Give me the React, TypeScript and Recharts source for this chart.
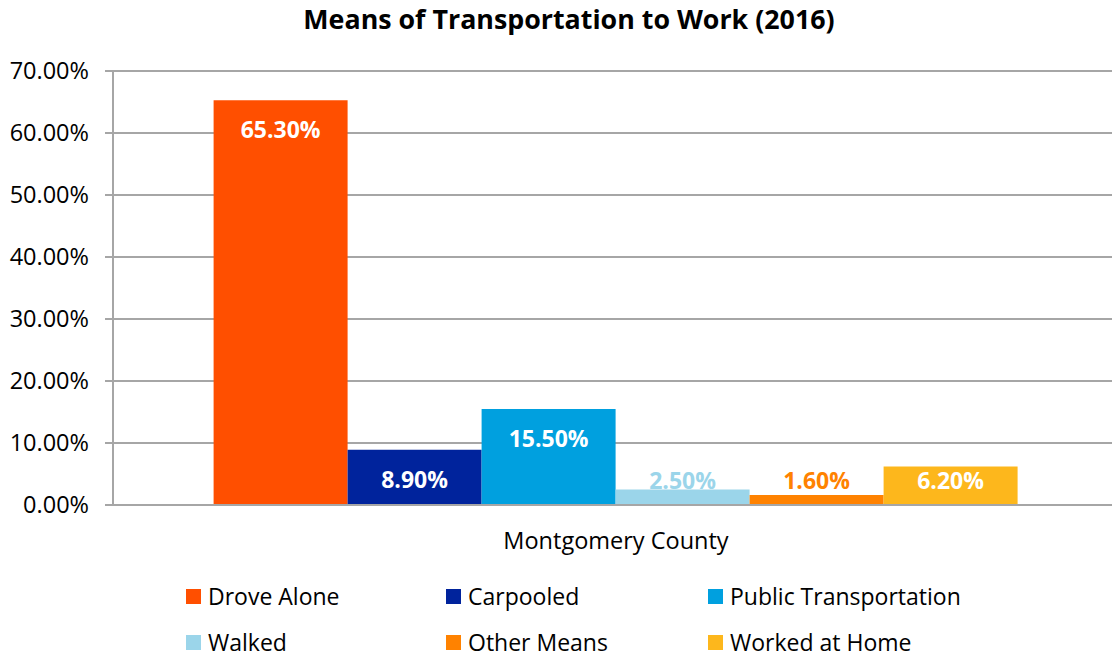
import React from "react";
import { BarChart, Bar, XAxis, YAxis, CartesianGrid, LabelList } from "recharts";

// 카테고리 / 시리즈 데이터
const categories = ["Montgomery County"];
const seriesNames = [
    "Drove Alone",
    "Carpooled",
    "Public Transportation",
    "Walked",
    "Other Means",
    "Worked at Home",
];
const seriesValues = [65.3, 8.9, 15.5, 2.5, 1.6, 6.2];
const seriesColors = ["#FF4F00", "#00239C", "#00A0DF", "#9BD5EA", "#FF8200", "#FDB71C"];
const yTicks = [0, 10, 20, 30, 40, 50, 60, 70];

const FONT = "'Open Sans', 'Noto Sans', sans-serif";

const data = categories.map((name) => {
    const row: Record<string, string | number> = { name };
    seriesNames.forEach((s, i) => {
        row[s] = seriesValues[i];
    });
    return row;
});

// 막대 안쪽 위에 흰색, 공간이 없으면 막대 색으로 위에 표시
const makeLabel = (color: string) => (props: any) => {
    const { x, y, width, height, value } = props;
    const bottom = Number(y) + Number(height);
    const ly = Math.min(Number(y) + 29, bottom - 25);
    const inside = ly - 10 >= Number(y);
    return (
        <text
            x={Number(x) + Number(width) / 2}
            y={ly}
            fill={inside ? "#FFFFFF" : color}
            textAnchor="middle"
            dominantBaseline="central"
            fontFamily={FONT}
            fontSize={23}
            fontWeight="bold"
        >
            {`${Number(value).toFixed(2)}%`}
        </text>
    );
};

const legendCols = [186, 446, 708];
const legendRows = [596, 642];

const App = () => {
    return (
        <div
            style={{
                position: "absolute",
                left: 0,
                top: 0,
                width: 1112,
                height: 657,
                overflow: "hidden",
                background: "#fff",
                fontFamily: FONT,
            }}
        >
            <div
                style={{
                    position: "absolute",
                    top: 0,
                    left: 0,
                    width: 1138,
                    textAlign: "center",
                    fontSize: 26.8,
                    fontWeight: "bold",
                    color: "#000",
                }}
            >
                Means of Transportation to Work (2016)
            </div>
            <BarChart
                width={1119}
                height={657}
                data={data}
                margin={{ top: 71, right: 0, left: 0, bottom: 152 - 60 }}
                barCategoryGap="10%"
                barGap={0}
            >
                <CartesianGrid vertical={false} stroke="#A6A6A6" strokeWidth={2} />
                <XAxis
                    dataKey="name"
                    height={60}
                    tickSize={0}
                    tickMargin={27}
                    axisLine={{ stroke: "#A6A6A6", strokeWidth: 2 }}
                    tick={{ fill: "#000", fontSize: 23.5, fontFamily: FONT }}
                />
                <YAxis
                    width={113}
                    domain={[0, 70]}
                    ticks={yTicks}
                    interval={0}
                    tickSize={8}
                    tickMargin={16}
                    tickFormatter={(v: number) => `${v.toFixed(2)}%`}
                    axisLine={{ stroke: "#A6A6A6", strokeWidth: 2 }}
                    tickLine={{ stroke: "#A6A6A6", strokeWidth: 2 }}
                    tick={{ fill: "#000", fontSize: 23.5, fontFamily: FONT }}
                />
                {seriesNames.map((s, i) => (
                    <Bar
                        key={s}
                        dataKey={s}
                        fill={seriesColors[i]}
                        isAnimationActive={false}
                    >
                        <LabelList dataKey={s} content={makeLabel(seriesColors[i])} />
                    </Bar>
                ))}
            </BarChart>
            {seriesNames.map((s, i) => (
                <div
                    key={s}
                    style={{
                        position: "absolute",
                        left: legendCols[i % 3],
                        top: legendRows[Math.floor(i / 3)] - 12,
                        height: 24,
                        lineHeight: "24px",
                        display: "flex",
                        alignItems: "center",
                        fontSize: 23,
                        color: "#000",
                        whiteSpace: "nowrap",
                    }}
                >
                    <span
                        style={{
                            display: "inline-block",
                            width: 15,
                            height: 15,
                            background: seriesColors[i],
                            marginRight: 7,
                        }}
                    />
                    {s}
                </div>
            ))}
        </div>
    );
};

export default App;
